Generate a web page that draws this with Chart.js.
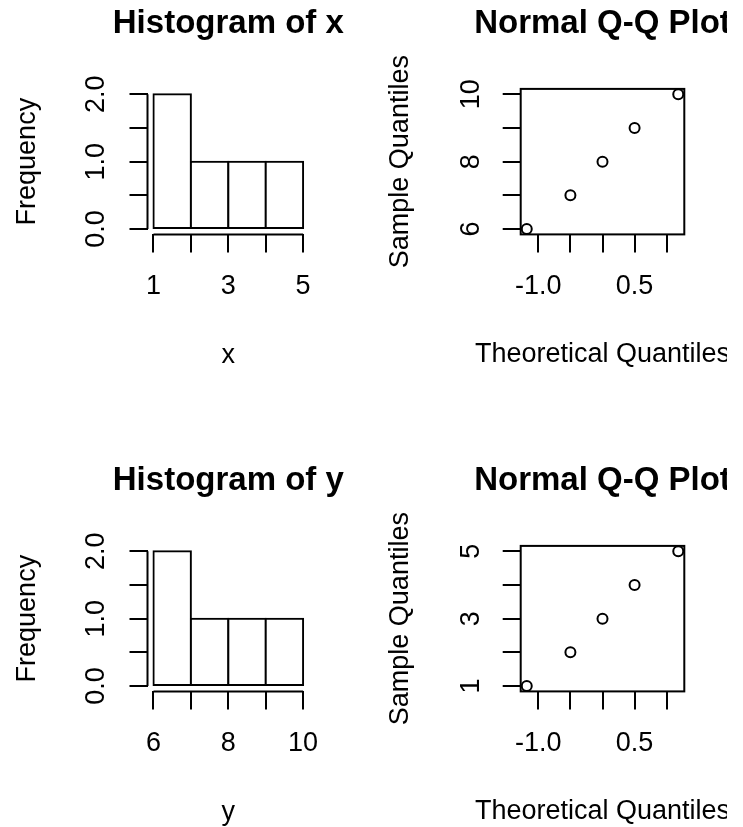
<!DOCTYPE html>
<html>
<head>
<meta charset="utf-8">
<script src="https://cdn.jsdelivr.net/npm/chart.js@4/dist/chart.umd.min.js"></script>
<style>
  html, body { margin: 0; padding: 0; background: #fff; overflow: hidden; width: 743px; height: 827px; }
  .cell { position: absolute; overflow: hidden; }
  canvas { display: block; }
</style>
</head>
<body>
<div class="cell" style="left:0;top:0;width:373px;height:457px"><canvas id="histX" width="446" height="457"></canvas></div>
<div class="cell" style="left:373px;top:0;width:354px;height:457px"><canvas id="qqTop" width="448" height="457"></canvas></div>
<div class="cell" style="left:0;top:457px;width:373px;height:370px"><canvas id="histY" width="446" height="457"></canvas></div>
<div class="cell" style="left:373px;top:457px;width:354px;height:370px"><canvas id="qqBottom" width="448" height="457"></canvas></div>
<script>
// ---------- data ----------
const xBreaks = [1, 2, 3, 4, 5];
const xCounts = [2, 1, 1, 1];
const xBreakLabels = ['1', '', '3', '', '5'];

const yBreaks = [6, 7, 8, 9, 10];
const yCounts = [2, 1, 1, 1];
const yBreakLabels = ['6', '', '8', '', '10'];

const freqTicks = [0, 0.5, 1, 1.5, 2];
const freqTickLabels = ['0.0', '', '1.0', '', '2.0'];

const theoQuantiles = [-1.18, -0.50, 0, 0.50, 1.18];
const theoTicks = [-1, -0.5, 0, 0.5, 1];
const theoTickLabels = ['-1.0', '', '', '0.5', ''];

const qqTopSample = [6, 7, 8, 9, 10];
const qqTopTicks = [6, 7, 8, 9, 10];
const qqTopTickLabels = ['6', '', '8', '', '10'];

const qqBottomSample = [1, 2, 3, 4, 5];
const qqBottomTicks = [1, 2, 3, 4, 5];
const qqBottomTickLabels = ['1', '', '3', '', '5'];

// ---------- styling ----------
Chart.defaults.font.family = '"Liberation Sans", Arial, Helvetica, sans-serif';
Chart.defaults.font.size = 27;
Chart.defaults.color = '#000';
const INK = '#000';

function fixedWidth(w) { return s => { s.width = w; }; }
function fixedHeight(h) { return s => { s.height = h; }; }
function ticksFrom(values) { return s => { s.ticks = values.map(v => ({ value: v })); }; }
function rRange(lo, hi) { const d = (hi - lo) * 0.04; return [lo - d, hi + d]; }

// R-style frame: axis segments spanning first..last tick, or a full box
const rFrame = {
  id: 'rFrame',
  beforeDatasetsDraw(chart, args, opts) {
    if (opts.mode !== 'box') return;
    const { ctx, chartArea: ca } = chart;
    ctx.save();
    ctx.strokeStyle = INK; ctx.lineWidth = 2;
    ctx.strokeRect(ca.left, ca.top, ca.right - ca.left, ca.bottom - ca.top);
    ctx.restore();
  },
  afterDatasetsDraw(chart, args, opts) {
    if (opts.mode !== 'axes') return;
    const { ctx, chartArea: ca, scales } = chart;
    const xs = scales.x, ys = scales.y;
    const xt = xs.ticks, yt = ys.ticks;
    ctx.save();
    ctx.strokeStyle = INK; ctx.lineWidth = 2;
    ctx.beginPath();
    ctx.moveTo(xs.getPixelForValue(xt[0].value), ca.bottom);
    ctx.lineTo(xs.getPixelForValue(xt[xt.length - 1].value), ca.bottom);
    ctx.moveTo(ca.left, ys.getPixelForValue(yt[0].value));
    ctx.lineTo(ca.left, ys.getPixelForValue(yt[yt.length - 1].value));
    ctx.stroke();
    ctx.restore();
  }
};

function tickGrid() {
  return { display: true, offset: false, drawOnChartArea: false, drawTicks: true,
           tickLength: 18, color: INK, lineWidth: 2 };
}

function histChart(id, breaks, counts, breakLabels, title, xName) {
  const bars = counts.map((c, i) => ({ x: (breaks[i] + breaks[i + 1]) / 2, y: c }));
  const [xmin, xmax] = rRange(breaks[0], breaks[breaks.length - 1]);
  const [ymin, ymax] = rRange(0, Math.max(...counts));
  return new Chart(document.getElementById(id), {
    type: 'bar',
    data: {
      datasets: [{
        data: bars, xAxisID: 'x', yAxisID: 'y',
        backgroundColor: '#fff', borderColor: INK,
        borderWidth: 2, borderSkipped: false, inflateAmount: 1,
        barPercentage: 1, categoryPercentage: 1
      }]
    },
    options: {
      responsive: false, animation: false, events: [],
      layout: { padding: { left: 11.5, right: 0.9, top: 0, bottom: 85.2 } },
      plugins: {
        legend: { display: false }, tooltip: { enabled: false },
        title: { display: true, text: title, color: INK, font: { size: 33, weight: 'bold' },
                 padding: { top: 3.8, bottom: 45.5 } },
        rFrame: { mode: 'axes' }
      },
      scales: {
        x: {
          type: 'linear', axis: 'x', position: 'bottom', min: xmin, max: xmax, offset: false,
          afterBuildTicks: ticksFrom(breaks), afterFit: fixedHeight(137.4),
          grid: tickGrid(), border: { display: false },
          ticks: { autoSkip: false, minRotation: 0, maxRotation: 0, padding: 18.4,
                   callback: (v, i) => breakLabels[i] },
          title: { display: true, text: xName, padding: { top: 0, bottom: 0 } }
        },
        y: {
          type: 'linear', axis: 'y', position: 'left', min: ymin, max: ymax,
          afterBuildTicks: ticksFrom(freqTicks), afterFit: fixedWidth(136),
          grid: tickGrid(), border: { display: false },
          ticks: { autoSkip: false, minRotation: 90, maxRotation: 90, crossAlign: 'center',
                   padding: 14.25, callback: (v, i) => freqTickLabels[i] },
          title: { display: true, text: 'Frequency', padding: { top: 0, bottom: 0 } }
        },
        yPad: {
          type: 'linear', axis: 'y', position: 'right', afterFit: fixedWidth(136),
          grid: { display: false }, border: { display: false }, ticks: { display: false }
        }
      }
    },
    plugins: [rFrame]
  });
}

function qqChart(id, sample, yTicks, yTickLabels, yPadding) {
  const pts = theoQuantiles.map((t, i) => ({ x: t, y: sample[i] }));
  const [xmin, xmax] = rRange(Math.min(...theoQuantiles), Math.max(...theoQuantiles));
  const [ymin, ymax] = rRange(Math.min(...sample), Math.max(...sample));
  return new Chart(document.getElementById(id), {
    type: 'scatter',
    data: {
      datasets: [{
        data: pts, xAxisID: 'x', yAxisID: 'y',
        pointStyle: 'circle', pointRadius: 5, pointBorderWidth: 2,
        pointBackgroundColor: 'rgba(0,0,0,0)', pointBorderColor: INK
      }]
    },
    options: {
      responsive: false, animation: false, events: [],
      layout: { padding: { left: 11, right: 0, top: 0, bottom: 86.6 } },
      plugins: {
        legend: { display: false }, tooltip: { enabled: false },
        title: { display: true, text: 'Normal Q-Q Plot', color: INK, font: { size: 33, weight: 'bold' },
                 padding: { top: 3.8, bottom: 45.5 } },
        subtitle: { display: true, position: 'bottom', text: 'Theoretical Quantiles', color: INK,
                    font: { size: 27, weight: 'normal' }, padding: { top: 8, bottom: 0 } },
        rFrame: { mode: 'box' }
      },
      scales: {
        x: {
          type: 'linear', axis: 'x', position: 'bottom', min: xmin, max: xmax,
          afterBuildTicks: ticksFrom(theoTicks), afterFit: fixedHeight(95.6),
          grid: tickGrid(), border: { display: false },
          ticks: { autoSkip: false, minRotation: 0, maxRotation: 0, padding: 18.4,
                   callback: (v, i) => theoTickLabels[i] }
        },
        y: {
          type: 'linear', axis: 'y', position: 'left', min: ymin, max: ymax,
          afterBuildTicks: ticksFrom(yTicks), afterFit: fixedWidth(136.7),
          grid: tickGrid(), border: { display: false },
          ticks: { autoSkip: false, minRotation: 90, maxRotation: 90, crossAlign: 'center',
                   padding: yPadding, callback: (v, i) => yTickLabels[i] },
          title: { display: true, text: 'Sample Quantiles', padding: { top: 0, bottom: 0 } }
        },
        yPad: {
          type: 'linear', axis: 'y', position: 'right', afterFit: fixedWidth(136.7),
          grid: { display: false }, border: { display: false }, ticks: { display: false }
        }
      }
    },
    plugins: [rFrame]
  });
}

histChart('histX', xBreaks, xCounts, xBreakLabels, 'Histogram of x', 'x');
qqChart('qqTop', qqTopSample, qqTopTicks, qqTopTickLabels, 16);
histChart('histY', yBreaks, yCounts, yBreakLabels, 'Histogram of y', 'y');
qqChart('qqBottom', qqBottomSample, qqBottomTicks, qqBottomTickLabels, 23.5);
</script>
</body>
</html>
